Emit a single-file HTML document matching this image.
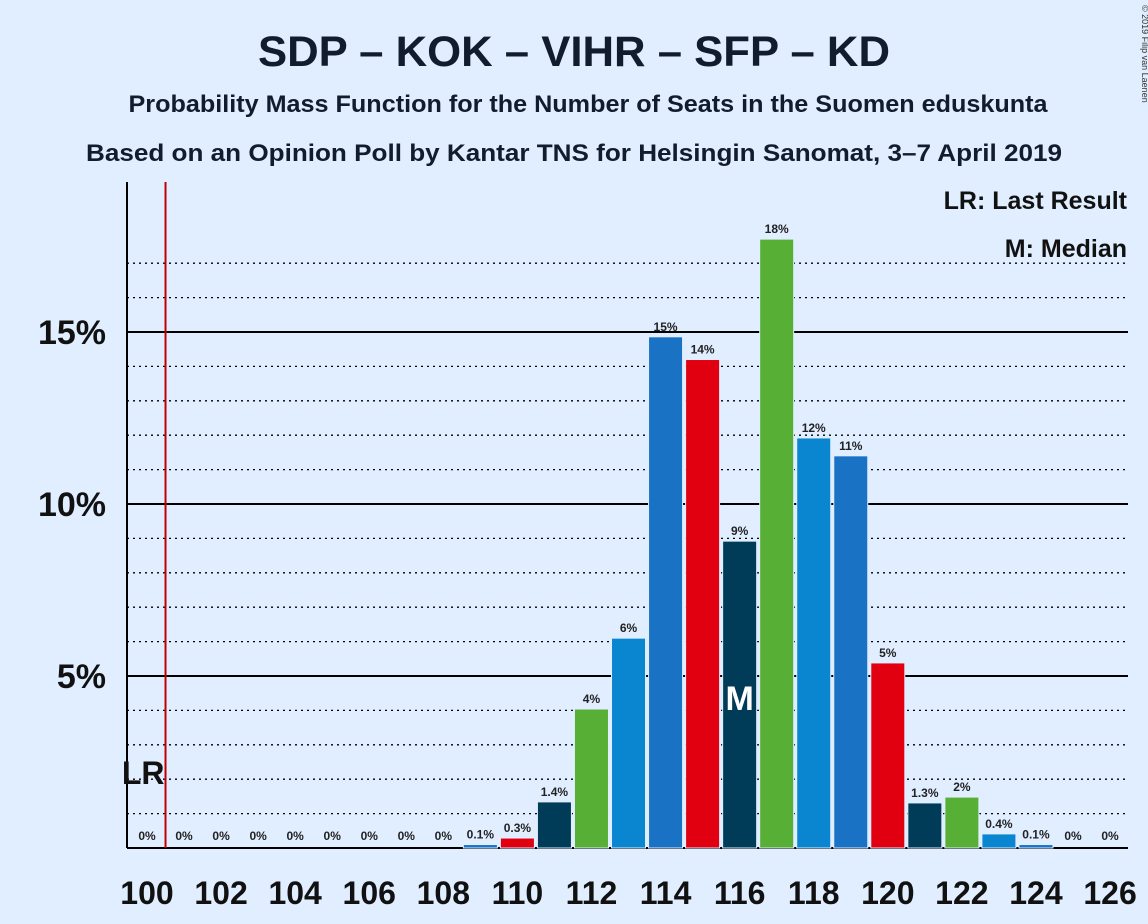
<!DOCTYPE html>
<html><head><meta charset="utf-8"><style>
body{margin:0;background:#e0eeff;}
svg{display:block;font-family:"Liberation Sans",sans-serif;}
</style></head><body>
<svg id="c" width="1148" height="924">
<rect width="1148" height="924" fill="#e0eeff"/>
<text x="574" y="66" text-anchor="middle" font-size="43" font-weight="bold" fill="#111d2e" textLength="632" lengthAdjust="spacingAndGlyphs">SDP – KOK – VIHR – SFP – KD</text>
<text x="588" y="112" text-anchor="middle" font-size="24" font-weight="bold" fill="#111d2e" textLength="919" lengthAdjust="spacingAndGlyphs">Probability Mass Function for the Number of Seats in the Suomen eduskunta</text>
<text x="574" y="161" text-anchor="middle" font-size="24" font-weight="bold" fill="#111d2e" textLength="976" lengthAdjust="spacingAndGlyphs">Based on an Opinion Poll by Kantar TNS for Helsingin Sanomat, 3–7 April 2019</text>
<text x="1142" y="5" font-size="9" fill="#333" transform="rotate(90 1142 5)">© 2019 Filip van Laenen</text>
<text x="1127" y="209" text-anchor="end" font-size="25" font-weight="bold" fill="#111">LR: Last Result</text>
<text x="1127" y="257" text-anchor="end" font-size="25" font-weight="bold" fill="#111">M: Median</text>
<g id="grid"></g><g id="bars"></g><g id="labels"></g>
</svg>
<script>
const seats=[100,101,102,103,104,105,106,107,108,109,110,111,112,113,114,115,116,117,118,119,120,121,122,123,124,125,126];
const probs=[0,0,0,0,0,0,0,0,0,0.1,0.29,1.34,4.04,6.1,14.86,14.2,8.92,17.7,11.92,11.4,5.38,1.31,1.48,0.41,0.1,0,0];
const valueLabels=["0%","0%","0%","0%","0%","0%","0%","0%","0%","0.1%","0.3%","1.4%","4%","6%","15%","14%","9%","18%","12%","11%","5%","1.3%","2%","0.4%","0.1%","0%","0%"];
const yTicks=[5,10,15];
const xTickLabels=[100,102,104,106,108,110,112,114,116,118,120,122,124,126];
const lastResult=100.5, median=116;
const ns="http://www.w3.org/2000/svg";
const X=s=>147+(s-100)*37.04;
const Y=p=>848-p*34.4;
const colors=["#1a72c4","#e0000f","#003b57","#57b035","#0a86d0"];
function mk(t,a,p){const e=document.createElementNS(ns,t);for(const k in a)e.setAttribute(k,a[k]);p.appendChild(e);return e;}
const g=document.getElementById('grid'),b=document.getElementById('bars'),l=document.getElementById('labels');
for(let p=1;p<=17;p++){
 const maj=yTicks.includes(p);
 const ln=mk('line',{x1:127,x2:1128,y1:Y(p),y2:Y(p),stroke:'#000','stroke-width':maj?2:1.3,'stroke-dasharray':maj?'':'2,4'},g);
 
 
}
yTicks.forEach(p=>{const t=mk('text',{x:106,y:Y(p)+12,'text-anchor':'end','font-size':34,'font-weight':'bold',fill:'#111'},l);t.textContent=p+'%';
 
 });
const ax=mk('line',{x1:127,x2:127,y1:182,y2:848,stroke:'#000','stroke-width':2},g);


const ax2=mk('line',{x1:127,x2:1128,y1:848,y2:848,stroke:'#000','stroke-width':2},g);


seats.forEach((s,i)=>{
 const p=probs[i];
 if(p>0){const r=mk('rect',{x:X(s)-17,y:Y(p),width:34,height:848-Y(p),fill:colors[(s-109+500)%5],stroke:'#e0eeff','stroke-width':1},b);
  
  }
 const t=mk('text',{x:X(s),y:(p>0?Y(p)-6:840),'text-anchor':'middle','font-size':12,'font-weight':'bold',fill:'#222'},l);
 t.textContent=valueLabels[i];
 
 
});
xTickLabels.forEach(s=>{const t=mk('text',{x:X(s),y:904,'text-anchor':'middle','font-size':32,'font-weight':'bold',fill:'#111'},l);t.textContent=s;
 
 });
const lr=mk('line',{x1:X(lastResult),x2:X(lastResult),y1:182,y2:848,stroke:'#c00000','stroke-width':2},l);


const lrt=mk('text',{x:X(lastResult)-1,y:784,'text-anchor':'end','font-size':32,'font-weight':'bold',fill:'#111'},l);lrt.textContent='LR';


const m=mk('text',{x:X(median),y:710,'text-anchor':'middle','font-size':34,'font-weight':'bold',fill:'#fff'},l);m.textContent='M';


</script>
</body></html>
